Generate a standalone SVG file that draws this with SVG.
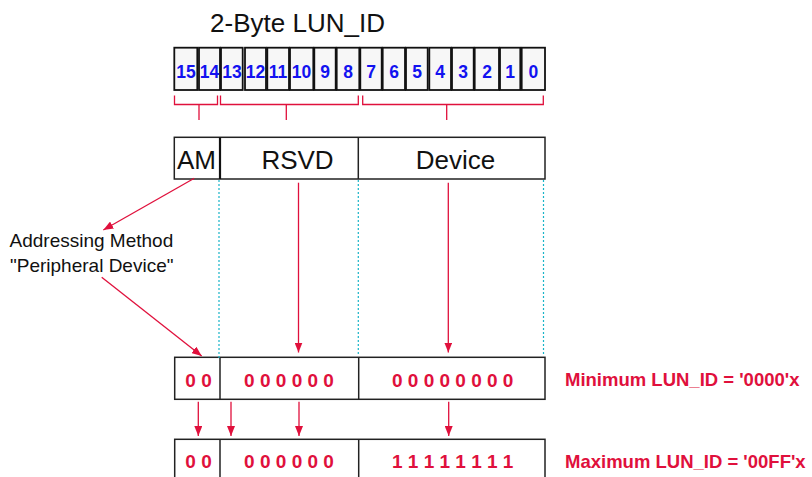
<svg xmlns="http://www.w3.org/2000/svg" width="812" height="477" viewBox="0 0 812 477">
<defs>
<style>
.bit{fill:#f7f7f7;stroke:#111;stroke-width:1.8}
.bn{font-family:"Liberation Sans",Arial,sans-serif;font-weight:bold;font-size:17.5px;fill:#1212f0;text-anchor:middle}
.fld{fill:#fff;stroke:#222;stroke-width:1.5}
.div{stroke:#222;stroke-width:1.5}
.big{font-family:"Liberation Sans",Arial,sans-serif;font-size:26px;fill:#111;text-anchor:middle}
.red{stroke:#e0103c;stroke-width:1.3;fill:none}
.arr{stroke:#e0103c;stroke-width:1.3;fill:none;marker-end:url(#ah)}
.dot{stroke:#18b4c8;stroke-width:1.2;stroke-dasharray:2,2}
.val{font-family:"Liberation Sans",Arial,sans-serif;font-weight:bold;font-size:19px;fill:#e0103c;text-anchor:middle}
.lab{font-family:"Liberation Sans",Arial,sans-serif;font-weight:bold;font-size:18.5px;fill:#e0103c}
.note{font-family:"Liberation Sans",Arial,sans-serif;font-size:19px;fill:#111}
</style>
<marker id="ah" viewBox="0 0 10 8" refX="10" refY="4" markerWidth="10" markerHeight="8" markerUnits="userSpaceOnUse" orient="auto">
<path d="M0,0 L10,4 L0,8 Z" fill="#e0103c"/>
</marker>
</defs>

<text x="297.5" y="31.5" class="big">2-Byte LUN_ID</text>

<g id="bits">
<rect class="bit" x="174.3" y="47.7" width="23" height="42.3"/>
<rect class="bit" x="199" y="47.7" width="21" height="42.3"/>
<rect class="bit" x="221" y="47.7" width="21.7" height="42.3"/>
<rect class="bit" x="245" y="47.7" width="21" height="42.3"/>
<rect class="bit" x="267.3" y="47.7" width="21.7" height="42.3"/>
<rect class="bit" x="290" y="47.7" width="23.3" height="42.3"/>
<rect class="bit" x="314.3" y="47.7" width="21.4" height="42.3"/>
<rect class="bit" x="336.7" y="47.7" width="22.6" height="42.3"/>
<rect class="bit" x="360.3" y="47.7" width="21.4" height="42.3"/>
<rect class="bit" x="382.7" y="47.7" width="22.3" height="42.3"/>
<rect class="bit" x="406" y="47.7" width="21.7" height="42.3"/>
<rect class="bit" x="429.3" y="47.7" width="21.7" height="42.3"/>
<rect class="bit" x="452" y="47.7" width="21.7" height="42.3"/>
<rect class="bit" x="474.7" y="47.7" width="24.3" height="42.3"/>
<rect class="bit" x="500" y="47.7" width="20.3" height="42.3"/>
<rect class="bit" x="521.7" y="47.7" width="23.3" height="42.3"/>
<text class="bn" x="186" y="77.5">15</text>
<text class="bn" x="209.5" y="77.5">14</text>
<text class="bn" x="232" y="77.5">13</text>
<text class="bn" x="255.5" y="77.5">12</text>
<text class="bn" x="278" y="77.5">11</text>
<text class="bn" x="301.5" y="77.5">10</text>
<text class="bn" x="325" y="77.5">9</text>
<text class="bn" x="348" y="77.5">8</text>
<text class="bn" x="371" y="77.5">7</text>
<text class="bn" x="394" y="77.5">6</text>
<text class="bn" x="417" y="77.5">5</text>
<text class="bn" x="440" y="77.5">4</text>
<text class="bn" x="463" y="77.5">3</text>
<text class="bn" x="487" y="77.5">2</text>
<text class="bn" x="510" y="77.5">1</text>
<text class="bn" x="533.3" y="77.5">0</text>
</g>

<g id="brackets">
<path class="red" d="M174.5,95.5 V104.5 H217.5 V95.5 M199,104.5 V120"/>
<path class="red" d="M220.5,95.5 V104.5 H358.3 V95.5 M286.3,104.5 V120"/>
<path class="red" d="M362.7,95.5 V104.5 H543.3 V95.5 M446.7,104.5 V120"/>
</g>

<g id="fields">
<rect class="fld" x="174.3" y="137.3" width="370.7" height="41.7"/>
<line x1="220" y1="137.3" x2="220" y2="179" stroke="#111" stroke-width="2.2"/>
<line class="div" x1="358.3" y1="137.3" x2="358.3" y2="179"/>
<text class="big" x="196.5" y="169.3">AM</text>
<text class="big" x="297.5" y="169.3">RSVD</text>
<text class="big" x="455.5" y="169.3">Device</text>
</g>

<g id="note">
<text class="note" x="9.5" y="247.3">Addressing Method</text>
<text class="note" x="10" y="271.7">"Peripheral Device"</text>
</g>

<g id="minimum">
<rect class="fld" x="174.7" y="357.3" width="370.3" height="42"/>
<line class="div" x1="220" y1="357.3" x2="220" y2="399.3"/>
<line class="div" x1="358.7" y1="357.3" x2="358.7" y2="399.3"/>
<text class="val" x="198.5" y="386.7">0 0</text>
<text class="val" x="289" y="386.7">0 0 0 0 0 0</text>
<text class="val" x="452.7" y="386.7">0 0 0 0 0 0 0 0</text>
<text class="lab" x="565" y="386">Minimum LUN_ID = '0000'x</text>
</g>

<g id="maximum">
<rect class="fld" x="174.7" y="439.3" width="370.3" height="45"/>
<line class="div" x1="220" y1="439.3" x2="220" y2="484"/>
<line class="div" x1="358.7" y1="439.3" x2="358.7" y2="484"/>
<text class="val" x="198.5" y="468">0 0</text>
<text class="val" x="289" y="468">0 0 0 0 0 0</text>
<text class="val" x="452.7" y="468">1 1 1 1 1 1 1 1</text>
<text class="lab" x="565" y="468">Maximum LUN_ID = '00FF'x</text>
</g>

<g id="connectors">
<line class="dot" x1="219" y1="180" x2="219" y2="360"/>
<line class="dot" x1="358.3" y1="180" x2="358.3" y2="355"/>
<line class="dot" x1="543.5" y1="180" x2="543.5" y2="355"/>
<line class="arr" x1="298.5" y1="182.7" x2="298.5" y2="352.5"/>
<line class="arr" x1="448.3" y1="182.7" x2="448.3" y2="352.5"/>
<line class="arr" x1="194.3" y1="178.3" x2="103.3" y2="230"/>
<line class="arr" x1="101.7" y1="277.3" x2="201.7" y2="356"/>
<line class="arr" x1="198.3" y1="401.7" x2="198.3" y2="436"/>
<line class="arr" x1="231" y1="401.7" x2="231" y2="436"/>
<line class="arr" x1="299" y1="401.7" x2="299" y2="436"/>
<line class="arr" x1="448.7" y1="401.7" x2="448.7" y2="436"/>
</g>
</svg>
